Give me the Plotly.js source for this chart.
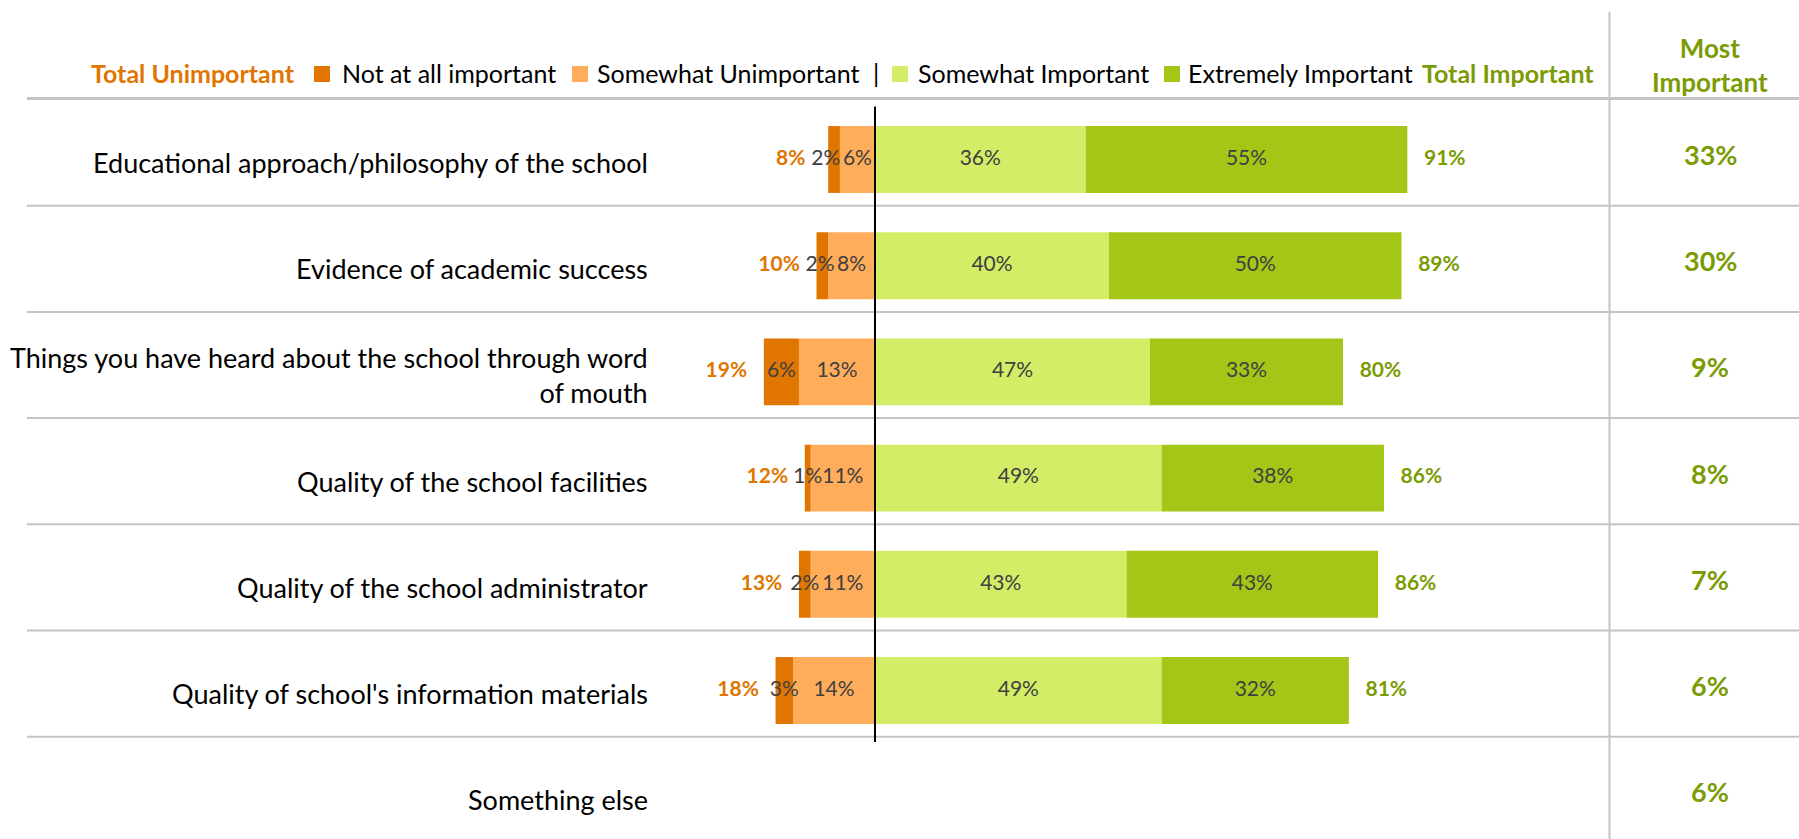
<!DOCTYPE html>
<html><head><meta charset="utf-8">
<script src="https://cdn.plot.ly/plotly-3.0.1.min.js"></script>
<style>html,body{margin:0;padding:0;background:#fff;overflow:hidden}#chart{width:1799px;height:839px}</style>
</head><body><div id="chart"></div>
<script>
// ---------- data ----------
const categories = [
  "Educational approach/philosophy of the school",
  "Evidence of academic success",
  "Things you have heard about the school through word<br>of mouth",
  "Quality of the school facilities",
  "Quality of the school administrator",
  "Quality of school's information materials",
  "Something else"
];
const notAtAllImportant   = [2, 2, 6, 1, 2, 3];
const somewhatUnimportant = [6, 8, 13, 11, 11, 14];
const somewhatImportant   = [36, 40, 47, 49, 43, 49];
const extremelyImportant  = [55, 50, 33, 38, 43, 32];
const totalUnimportant    = [8, 10, 19, 12, 13, 18];
const totalImportant      = [91, 89, 80, 86, 86, 81];
const mostImportant       = [33, 30, 9, 8, 7, 6, 6];
const seriesNames = ["Not at all important", "Somewhat Unimportant", "Somewhat Important", "Extremely Important"];
const totalNames = ["Total Unimportant", "Total Important"];
const mostHeader = "Most<br>Important";

// ---------- style / geometry ----------
const W = 1799, H = 839;
const FONT = "Lato, 'Open Sans', sans-serif";
const COL = {
  notAt: '#E07600', somUn: '#FFAD5A', somIm: '#D3ED67', ext: '#A3C617',
  orange: '#E07600', green: '#7B9B05', seg: '#404040', grid: '#C4C4C4'
};
const ZERO_PX = 875, PX_PER_PCT = 5.85, ROW0_PX = 159.5, ROW_PX = 106.2;
const px2x = p => p / W;               // paper x
const px2y = p => 1 - p / H;           // paper y
const barCats = categories.slice(0, notAtAllImportant.length);

const fmt = v => v + '%';
const pct = arr => arr.map(fmt);

// ---------- traces ----------
const traces = [];
function bar(name, vals, color, sign) {
  traces.push({
    type: 'bar', orientation: 'h', name: name,
    y: barCats, x: vals.map(v => sign * v),
    marker: {color: color, line: {width: 0}},
    hoverinfo: 'skip', showlegend: false
  });
}
bar(seriesNames[1], somewhatUnimportant, COL.somUn, -1);
bar(seriesNames[0], notAtAllImportant, COL.notAt, -1);
bar(seriesNames[2], somewhatImportant, COL.somIm, 1);
bar(seriesNames[3], extremelyImportant, COL.ext, 1);

function textTrace(xs, texts, color, size, bold) {
  traces.push({
    type: 'scatter', mode: 'text', y: barCats, x: xs,
    text: texts.map(t => bold ? '<b>' + t + '</b>' : t),
    textposition: 'middle center',
    textfont: {family: FONT, size: size, color: color},
    hoverinfo: 'skip', showlegend: false, cliponaxis: false
  });
}
// segment labels
const SEG_SIZE = 21;
const MIN_LABEL_GAP = 5.4;   // in axis % units: keeps neighbouring small labels apart
const somUnMid = somewhatUnimportant.map(v => -v / 2);
const notAtMid = notAtAllImportant.map((v, i) =>
  Math.min(-(somewhatUnimportant[i] + v / 2), somUnMid[i] - MIN_LABEL_GAP));
textTrace(somUnMid, pct(somewhatUnimportant), COL.seg, SEG_SIZE, false);
textTrace(notAtMid, pct(notAtAllImportant), COL.seg, SEG_SIZE, false);
textTrace(somewhatImportant.map(v => v / 2), pct(somewhatImportant), COL.seg, SEG_SIZE, false);
textTrace(extremelyImportant.map((v, i) => somewhatImportant[i] + v / 2), pct(extremelyImportant), COL.seg, SEG_SIZE, false);
// totals
const TOT_OFF = 6.4;
textTrace(notAtAllImportant.map((v, i) => -(v + somewhatUnimportant[i]) - TOT_OFF), pct(totalUnimportant), COL.orange, SEG_SIZE, true);
textTrace(somewhatImportant.map((v, i) => v + extremelyImportant[i] + TOT_OFF), pct(totalImportant), COL.green, SEG_SIZE, true);

// ---------- annotations ----------
const annotations = [];
categories.forEach((c, i) => {
  annotations.push({
    xref: 'paper', yref: 'y', x: px2x(650), y: c, xanchor: 'right', yanchor: 'middle',
    text: c, align: 'right', showarrow: false, yshift: -3,
    font: {family: FONT, size: 27, color: '#000'}
  });
  annotations.push({
    xref: 'paper', yref: 'y', x: px2x(1710), y: c, xanchor: 'center', yanchor: 'middle',
    text: '<b>' + fmt(mostImportant[i]) + '</b>', showarrow: false, yshift: 5,
    font: {family: FONT, size: 27, color: COL.green}
  });
});
annotations.push({
  xref: 'paper', yref: 'paper', x: px2x(1710), y: px2y(65), xanchor: 'center', yanchor: 'middle',
  text: '<b>' + mostHeader + '</b>', showarrow: false,
  font: {family: FONT, size: 26, color: COL.green}
});
// legend row
const LEG_Y = px2y(73);
const legendItems = [
  {text: '<b>' + totalNames[0] + '</b>', x: 89, color: COL.orange},
  {text: seriesNames[0], x: 340, color: '#000'},
  {text: seriesNames[1], x: 595, color: '#000'},
  {text: '|', x: 871, color: '#000'},
  {text: seriesNames[2], x: 916, color: '#000'},
  {text: seriesNames[3], x: 1186, color: '#000'},
  {text: '<b>' + totalNames[1] + '</b>', x: 1420, color: COL.green}
];
legendItems.forEach(it => annotations.push({
  xref: 'paper', yref: 'paper', x: px2x(it.x), y: LEG_Y, xanchor: 'left', yanchor: 'middle',
  text: it.text, showarrow: false, font: {family: FONT, size: 25, color: it.color}
}));

// ---------- shapes ----------
const shapes = [];
const swatches = [{x: 314, c: COL.notAt}, {x: 572, c: COL.somUn}, {x: 892, c: COL.somIm}, {x: 1164, c: COL.ext}];
swatches.forEach(s => shapes.push({
  type: 'rect', xref: 'paper', yref: 'paper', x0: px2x(s.x), x1: px2x(s.x + 16),
  y0: px2y(82), y1: px2y(66), fillcolor: s.c, line: {width: 0}
}));
// header rule
shapes.push({type: 'line', xref: 'paper', yref: 'y', x0: px2x(27), x1: 1, y0: -0.575, y1: -0.575,
  line: {color: COL.grid, width: 3}});
// row separators
categories.slice(0, -1).forEach((c, i) => shapes.push({
  type: 'line', xref: 'paper', yref: 'y', x0: px2x(27), x1: 1, y0: i + 0.435, y1: i + 0.435,
  line: {color: COL.grid, width: 2}
}));
// vertical separator before "Most Important"
shapes.push({type: 'line', xref: 'paper', yref: 'paper', x0: px2x(1609.5), x1: px2x(1609.5),
  y0: 0, y1: px2y(12), line: {color: COL.grid, width: 2}});
// zero axis line
shapes.push({type: 'line', xref: 'x', yref: 'y', x0: 0, x1: 0, y0: -0.5, y1: barCats.length - 0.515,
  line: {color: '#000', width: 2}});

const layout = {
  width: W, height: H, margin: {l: 0, r: 0, t: 0, b: 0, pad: 0},
  paper_bgcolor: '#fff', plot_bgcolor: '#fff',
  barmode: 'relative', bargap: 0.37, showlegend: false,
  xaxis: {range: [-ZERO_PX / PX_PER_PCT, (W - ZERO_PX) / PX_PER_PCT], visible: false, fixedrange: true},
  yaxis: {type: 'category', categoryorder: 'array', categoryarray: categories,
    range: [(H - ROW0_PX) / ROW_PX, -ROW0_PX / ROW_PX], visible: false, fixedrange: true},
  annotations: annotations, shapes: shapes,
  font: {family: FONT}
};
Plotly.newPlot('chart', traces, layout, {displayModeBar: false, staticPlot: true});
</script></body></html>
